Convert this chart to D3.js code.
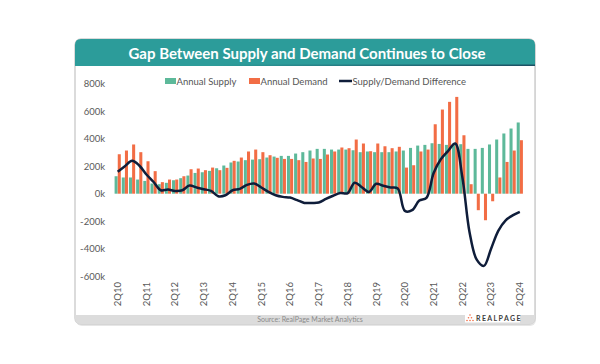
<!DOCTYPE html>
<html>
<head>
<meta charset="utf-8">
<script src="https://cdn.jsdelivr.net/npm/d3@7"></script>
<style>
  html, body { margin: 0; padding: 0; background: #ffffff; }
  svg { display: block; font-family: Lato, "Open Sans", sans-serif; }
</style>
</head>
<body>
<svg id="chart" width="600" height="364"></svg>
<script>
const quarters = ["2Q10","3Q10","4Q10","1Q11","2Q11","3Q11","4Q11","1Q12","2Q12","3Q12","4Q12","1Q13",
  "2Q13","3Q13","4Q13","1Q14","2Q14","3Q14","4Q14","1Q15","2Q15","3Q15","4Q15","1Q16",
  "2Q16","3Q16","4Q16","1Q17","2Q17","3Q17","4Q17","1Q18","2Q18","3Q18","4Q18","1Q19",
  "2Q19","3Q19","4Q19","1Q20","2Q20","3Q20","4Q20","1Q21","2Q21","3Q21","4Q21","1Q22",
  "2Q22","3Q22","4Q22","1Q23","2Q23","3Q23","4Q23","1Q24","2Q24"];

const xTickLabels = ["2Q10","2Q11","2Q12","2Q13","2Q14","2Q15","2Q16","2Q17","2Q18","2Q19","2Q20","2Q21","2Q22","2Q23","2Q24"];

// values in thousands of units
const annualSupply = [127,118,118,103,93,74,69,79,98,113,132,151,
  156,166,185,205,227,234,244,248,251,263,270,275,
  275,292,302,314,326,326,321,321,321,316,302,307,
  302,302,302,307,314,333,350,355,367,362,355,365,
  360,326,326,333,358,394,438,474,518];

const annualDemand = [287,314,358,302,236,164,84,103,103,127,178,183,
  171,190,171,188,239,263,307,321,302,280,261,253,
  253,244,231,256,253,285,307,336,331,394,365,309,
  365,345,331,341,190,207,307,321,505,612,668,704,
  425,69,-120,-193,-55,118,231,314,389];

const difference = [159,200,239,205,140,85,25,30,20,25,59,45,
  33,20,-18,-11,25,35,64,74,45,13,-11,-23,
  -28,-47,-67,-67,-64,-38,-15,5,3,80,47,13,
  72,58,45,38,-125,-120,-50,-30,150,250,310,365,
  120,-280,-480,-525,-400,-270,-195,-158,-132];

const yTicks = [-600,-400,-200,0,200,400,600,800];

const seriesNames = ["Annual Supply","Annual Demand","Supply/Demand Difference"];
const title = "Gap Between Supply and Demand Continues to Close";
const source = "Source: RealPage Market Analytics";

const colSupply = "#5db99a", colDemand = "#f26d45", colLine = "#0f1d3a", colHeader = "#2c9c9a";

const svg = d3.select("#chart");

// card
const cx0 = 75, cx1 = 535, cy0 = 39, cy1 = 324, r = 6;
svg.append("rect").attr("x", cx0 + 1).attr("y", cy0 + 2).attr("width", cx1 - cx0).attr("height", cy1 - cy0)
  .attr("rx", r).attr("fill", "#e6e6e6");
svg.append("rect").attr("x", cx0).attr("y", cy0).attr("width", cx1 - cx0).attr("height", cy1 - cy0)
  .attr("rx", r).attr("fill", "#ffffff").attr("stroke", "#cfcfcf").attr("stroke-width", 1.5);

// header
const hy1 = 66;
svg.append("path")
  .attr("d", `M${cx0},${hy1} L${cx0},${cy0 + r} Q${cx0},${cy0} ${cx0 + r},${cy0} L${cx1 - r},${cy0} Q${cx1},${cy0} ${cx1},${cy0 + r} L${cx1},${hy1} Z`)
  .attr("fill", colHeader);
const grad = svg.append("defs").append("linearGradient").attr("id", "hg").attr("x1", "0").attr("x2", "1");
grad.append("stop").attr("offset", "0.3").attr("stop-color", "#1c4f63").attr("stop-opacity", 0);
grad.append("stop").attr("offset", "1").attr("stop-color", "#1c4f63").attr("stop-opacity", 1);
svg.append("rect").attr("x", cx0).attr("y", hy1 - 1.5).attr("width", cx1 - cx0).attr("height", 1.5).attr("fill", "url(#hg)");
svg.append("text").attr("x", 307).attr("y", 58.5).attr("text-anchor", "middle")
  .attr("fill", "#ffffff").attr("font-size", 15).attr("font-weight", 700).text(title);

// footer
const fy0 = 315;
svg.append("path")
  .attr("d", `M${cx0},${fy0} L${cx1},${fy0} L${cx1},${cy1 - r} Q${cx1},${cy1} ${cx1 - r},${cy1} L${cx0 + r},${cy1} Q${cx0},${cy1} ${cx0},${cy1 - r} Z`)
  .attr("fill", "#dcdcdc");
svg.append("text").attr("x", 310).attr("y", 321.5).attr("text-anchor", "middle")
  .attr("fill", "#8a8a8a").attr("font-size", 7).text(source);
svg.append("rect").attr("x", 465).attr("y", 313).attr("width", 55).attr("height", 9.5).attr("fill", "#ffffff");
const dots = [[470,315.5],[468.5,318.3],[471.5,318.3],[467,321],[470,321],[473,321]];
svg.selectAll("circle.logo").data(dots).join("circle").attr("class","logo")
  .attr("cx", d => d[0]).attr("cy", d => d[1] - 0.5).attr("r", 0.8).attr("fill", colDemand);
svg.append("text").attr("x", 476).attr("y", 321).attr("fill", "#3d3d3d").attr("font-size", 7)
  .attr("font-weight", 700).attr("letter-spacing", 1.4).text("REALPAGE");

// scales
const x0 = d3.scaleBand().domain(quarters).range([114.1, 523.4]).paddingInner(0.1).paddingOuter(0.05);
const x1 = d3.scaleBand().domain(["supply","demand"]).range([0, x0.bandwidth()]).padding(0.04);
const y = d3.scaleLinear().domain([-600, 800]).range([276.2, 83.7]);

// y axis
const yAxis = svg.append("g").attr("transform", "translate(108,0)")
  .call(d3.axisLeft(y).tickValues(yTicks).tickSize(0).tickPadding(3).tickFormat(d => d + "k"));
yAxis.select(".domain").remove();
yAxis.selectAll("text").attr("font-family", "Lato, sans-serif").attr("font-size", 9.5).attr("fill", "#5a5a5a");

// x axis
const xAxis = svg.append("g").attr("transform", "translate(0,278)")
  .call(d3.axisBottom(x0).tickValues(xTickLabels).tickSize(0));
xAxis.select(".domain").remove();
xAxis.selectAll("text")
  .attr("font-family", "Lato, sans-serif").attr("font-size", 9.5).attr("fill", "#5a5a5a")
  .attr("y", 0).attr("x", -4).attr("dy", "0.35em")
  .attr("transform", "rotate(-90)").style("text-anchor", "end");

// bars
const rows = quarters.map((q, i) => ({ q, supply: annualSupply[i], demand: annualDemand[i], diff: difference[i] }));
const groups = svg.append("g").selectAll("g").data(rows).join("g")
  .attr("transform", d => `translate(${x0(d.q)},0)`);
groups.append("rect")
  .attr("x", x1("supply")).attr("width", x1.bandwidth())
  .attr("y", d => Math.min(y(d.supply), y(0))).attr("height", d => Math.abs(y(d.supply) - y(0)))
  .attr("fill", colSupply);
groups.append("rect")
  .attr("x", x1("demand")).attr("width", x1.bandwidth())
  .attr("y", d => Math.min(y(d.demand), y(0))).attr("height", d => Math.abs(y(d.demand) - y(0)))
  .attr("fill", colDemand);

// line
const line = d3.line().x(d => x0(d.q) + x0.bandwidth() / 2).y(d => y(d.diff)).curve(d3.curveCatmullRom.alpha(0.5));
svg.append("path").datum(rows).attr("d", line).attr("fill", "none")
  .attr("stroke", colLine).attr("stroke-width", 2.5).attr("stroke-linejoin", "round");

// legend
const lg = svg.append("g").attr("font-size", 9.5).attr("fill", "#555555");
lg.append("rect").attr("x", 165).attr("y", 78).attr("width", 11).attr("height", 6).attr("fill", colSupply);
lg.append("text").attr("x", 176.5).attr("y", 84.5).text(seriesNames[0]);
lg.append("rect").attr("x", 249).attr("y", 78).attr("width", 11).attr("height", 6).attr("fill", colDemand);
lg.append("text").attr("x", 260.5).attr("y", 84.5).text(seriesNames[1]);
lg.append("line").attr("x1", 339).attr("x2", 352).attr("y1", 81).attr("y2", 81).attr("stroke", colLine).attr("stroke-width", 2.5);
lg.append("text").attr("x", 352.5).attr("y", 84.5).text(seriesNames[2]);
</script>
</body>
</html>
